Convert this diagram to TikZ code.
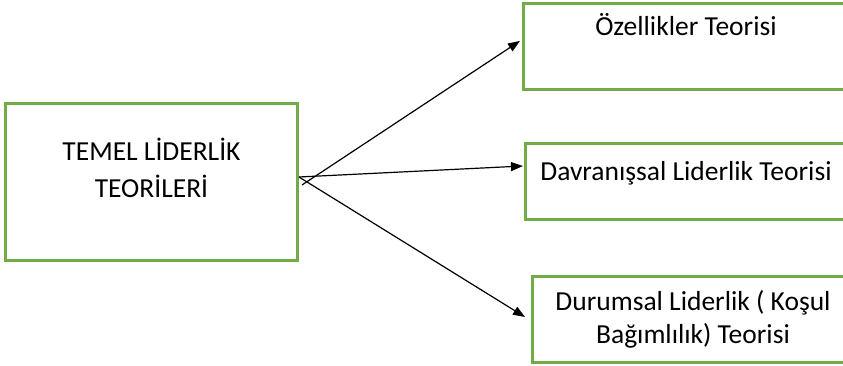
\documentclass[tikz,border=0pt]{standalone}
\usepackage{fontspec}
\setmainfont{Carlito}
\usetikzlibrary{arrows.meta}
\definecolor{boxgreen}{HTML}{70AD47}
\begin{document}
\begin{tikzpicture}[x=1pt,y=-1pt,
  box/.style={draw=boxgreen,line width=3pt,inner sep=0pt,outer sep=0pt,anchor=north west},
  lbl/.style={font=\fontsize{27.5}{36}\selectfont,anchor=base,align=center,inner sep=0pt},
  arr/.style={line width=1.2pt,-{Triangle[length=12pt,width=9pt]}}]
\useasboundingbox (0,0) rectangle (843,366);
\clip (0,0) rectangle (843,366);
\node[box,minimum width=292.5pt,minimum height=157.4pt] (main) at (5,103.3) {};
\node[box,minimum width=336.7pt,minimum height=86.2pt] (top) at (523.3,3.3) {};
\node[box,minimum width=334.3pt,minimum height=75.5pt] (mid) at (525.7,144) {};
\node[box,minimum width=328pt,minimum height=86pt] (bot) at (532,276) {};
\node[lbl] (mainlbl) at (151.5,197) {TEMEL LİDERLİK\\TEORİLERİ};
\node[lbl] (toplbl) at (686,36) {Özellikler Teorisi};
\node[lbl] (midlbl) at (686,181) {Davranışsal Liderlik Teorisi};
\node[lbl,font=\fontsize{27.5}{33}\selectfont] (botlbl) at (693,343) {Durumsal Liderlik ( Koşul\\Bağımlılık) Teorisi};
\coordinate (s1) at (302,185);
\coordinate (s0) at (299,177);
\draw[arr] (s1) -- ([shift={(-3.3,-5.5)}]top.west);
\draw[arr] (s0) -- ([shift={(-2.7,-15.75)}]mid.west);
\draw[arr] (s0) -- ([shift={(-7,-2)}]bot.west);
\end{tikzpicture}
\end{document}
